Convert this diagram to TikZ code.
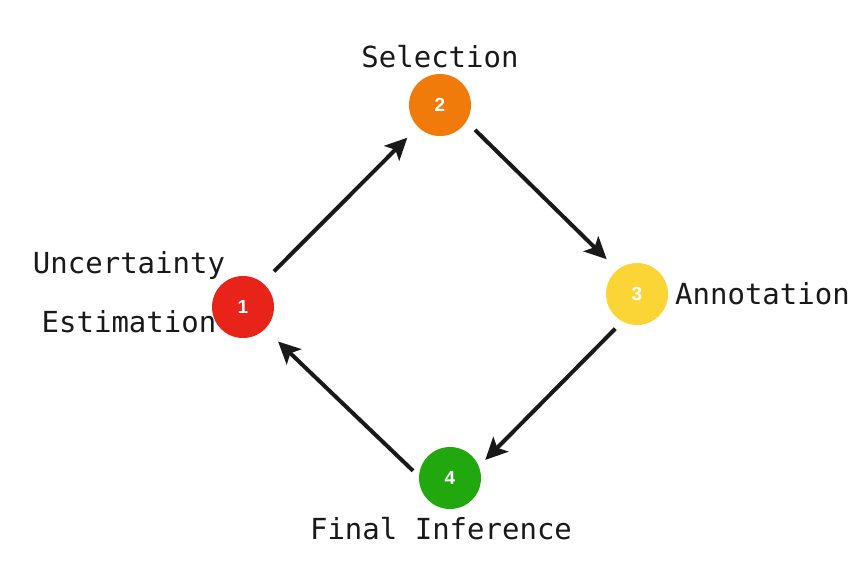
\documentclass[tikz,border=0pt]{standalone}
\usepackage{fontspec}
\newfontfamily\monofont{DejaVu Sans Mono}
\newfontfamily\numfont{Liberation Sans}
\usetikzlibrary{arrows.meta}
\definecolor{cred}{HTML}{E8231A}
\definecolor{corange}{HTML}{F07A0A}
\definecolor{cyellow}{HTML}{FBD535}
\definecolor{cgreen}{HTML}{22A80F}
\tikzset{
  stage/.style={circle, minimum size=62pt, inner sep=0pt, text=white, font=\numfont\fontsize{19}{19}\selectfont\bfseries},
  lbl/.style={font=\monofont\fontsize{29}{29}\selectfont, inner sep=0pt, text=black!90},
  flow/.style={line width=4pt, black!90, -{Stealth[length=22pt,width=21pt,inset=5pt]}},
}
\begin{document}
\begin{tikzpicture}[x=1pt,y=-1pt]
\useasboundingbox (0,0) rectangle (854,569);
\node[stage, fill=cred] (n1) at (243,307) {1};
\node[stage, fill=corange] (n2) at (440,105) {2};
\node[stage, fill=cyellow] (n3) at (637,294) {3};
\node[stage, fill=cgreen] (n4) at (450,478) {4};
\node[lbl] (l2) at (440,57) {Selection};
\node[lbl] (l1a) at (129,266) {Uncertainty};
\node[lbl] (l1b) at (129,322) {Estimation};
\node[lbl, anchor=west] (l3) at (675,294) {Annotation};
\node[lbl] (l4) at (441,529) {Final Inference};
\draw[flow, shorten <=16pt, shorten >=15pt] (n1.51) -- (n2.225);
\draw[flow, shorten <=12pt, shorten >=15pt] (n2.-32) -- (n3.129);
\draw[flow, shorten <=10pt, shorten >=9pt] (n3.242) -- (n4.22);
\draw[flow, shorten <=8pt, shorten >=18pt] (n4.177) -- (n1.-45);
\end{tikzpicture}
\end{document}
